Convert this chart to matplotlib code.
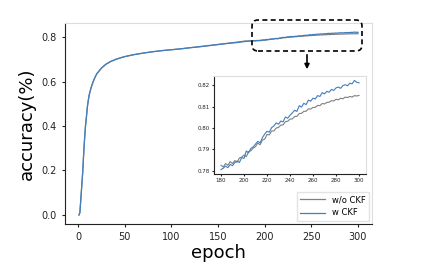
#!/usr/bin/env python3
import matplotlib
matplotlib.use("Agg")
import matplotlib.pyplot as plt
from matplotlib.patches import FancyBboxPatch

# epochs 1..178 sampled sparsely (smooth part), then every 2 epochs 180..300
early_epochs = [1, 2, 3, 4, 5, 6, 7, 8, 9, 10, 11, 12, 14, 16, 18, 20, 25, 30, 35, 40,
                45, 50, 60, 70, 80, 90, 100, 110, 120, 130, 140, 150, 160, 170, 178]
early_w = [0.000, 0.010, 0.070, 0.130, 0.190, 0.270, 0.340, 0.400, 0.440, 0.485, 0.515,
           0.540, 0.572, 0.597, 0.617, 0.634, 0.660, 0.678, 0.690, 0.699, 0.706, 0.712,
           0.721, 0.728, 0.734, 0.739, 0.743, 0.747, 0.752, 0.756, 0.761, 0.766, 0.771,
           0.775, 0.7795]
early_wo = [0.000, 0.010, 0.070, 0.130, 0.190, 0.270, 0.340, 0.400, 0.440, 0.485, 0.515,
            0.540, 0.572, 0.597, 0.617, 0.634, 0.660, 0.678, 0.690, 0.699, 0.706, 0.712,
            0.721, 0.728, 0.734, 0.739, 0.743, 0.747, 0.752, 0.757, 0.762, 0.767, 0.772,
            0.777, 0.7815]

late_epochs = list(range(180, 301, 2))
late_w = [0.7806, 0.7812, 0.7822, 0.7815, 0.7830, 0.7824, 0.7838, 0.7846, 0.7839, 0.7862,
          0.7858, 0.7893, 0.7884, 0.7905, 0.7912, 0.7925, 0.7938, 0.7931, 0.7955, 0.7972,
          0.7985, 0.7981, 0.8002, 0.8010, 0.8024, 0.8018, 0.8033, 0.8029, 0.8052, 0.8046,
          0.8060, 0.8071, 0.8083, 0.8078, 0.8105, 0.8098, 0.8116, 0.8110, 0.8131, 0.8126,
          0.8140, 0.8136, 0.8152, 0.8148, 0.8166, 0.8160, 0.8172, 0.8168, 0.8181, 0.8176,
          0.8188, 0.8192, 0.8186, 0.8199, 0.8203, 0.8198, 0.8210, 0.8207, 0.8223, 0.8214,
          0.8212]
late_wo = [0.7826, 0.7818, 0.7834, 0.7826, 0.7843, 0.7834, 0.7848, 0.7840, 0.7860, 0.7864,
           0.7874, 0.7866, 0.7890, 0.7894, 0.7906, 0.7913, 0.7930, 0.7922, 0.7944, 0.7948,
           0.7970, 0.7968, 0.7986, 0.7987, 0.8000, 0.8003, 0.8014, 0.8015, 0.8030, 0.8032,
           0.8042, 0.8043, 0.8054, 0.8055, 0.8068, 0.8069, 0.8078, 0.8079, 0.8090, 0.8089,
           0.8097, 0.8097, 0.8106, 0.8105, 0.8115, 0.8113, 0.8120, 0.8121, 0.8128, 0.8127,
           0.8135, 0.8132, 0.8140, 0.8137, 0.8145, 0.8143, 0.8148, 0.8145, 0.8152, 0.8150,
           0.8153]

epochs = early_epochs + late_epochs
acc_w = early_w + late_w
acc_wo = early_wo + late_wo

GRAY = "#7f7f7f"
BLUE = "#3f7ebf"


def style_axes(ax, size):
    for side in ("top", "right"):
        ax.spines[side].set_color("#dddddd")
    for side in ("left", "bottom"):
        ax.spines[side].set_color("#222222")
    ax.tick_params(labelsize=size, colors="#222222", length=2.5, width=0.8)


fig = plt.figure(figsize=(4.29, 2.70), dpi=100)
ax = fig.add_axes([0.1515, 0.170, 0.7155, 0.745])
ax.plot(epochs, acc_wo, color=GRAY, lw=0.9, label="w/o CKF")
ax.plot(epochs, acc_w, color=BLUE, lw=0.9, label="w CKF")
ax.set_xticks([0, 50, 100, 150, 200, 250, 300])
ax.set_yticks([0.0, 0.2, 0.4, 0.6, 0.8])
ax.set_xlabel("epoch", fontsize=13, labelpad=1)
ax.set_ylabel("accuracy(%)", fontsize=13, labelpad=4)
style_axes(ax, 7)
ax.legend(loc="lower right", fontsize=6, edgecolor="#dddddd", fancybox=False,
          handlelength=3, borderaxespad=0.4)

ins = fig.add_axes([0.499, 0.3556, 0.354, 0.363])
ins.plot(late_epochs, late_wo, color=GRAY, lw=0.8)
ins.plot(late_epochs, late_w, color=BLUE, lw=0.8)
ins.set_xticks([180, 200, 220, 240, 260, 280, 300])
ins.set_yticks([0.78, 0.79, 0.80, 0.81, 0.82])
style_axes(ins, 4)
ins.tick_params(length=1.5, pad=1.5)

# dashed zoom box and arrow
box = FancyBboxPatch((252 / 429, 1 - 51 / 270), 110 / 429, 31 / 270,
                     boxstyle="round,pad=0,rounding_size=0.014",
                     mutation_aspect=429 / 270, transform=fig.transFigure,
                     fill=False, ec="black", lw=1.2, ls=(0, (3, 2)))
fig.patches.append(box)
ax.annotate("", xy=(307 / 429, 1 - 72 / 270), xytext=(307 / 429, 1 - 52 / 270),
            xycoords="figure fraction", textcoords="figure fraction",
            arrowprops=dict(arrowstyle="-|>", color="black", lw=1.2, mutation_scale=7))

fig.savefig("out.png", dpi=100)
plt.close(fig)
